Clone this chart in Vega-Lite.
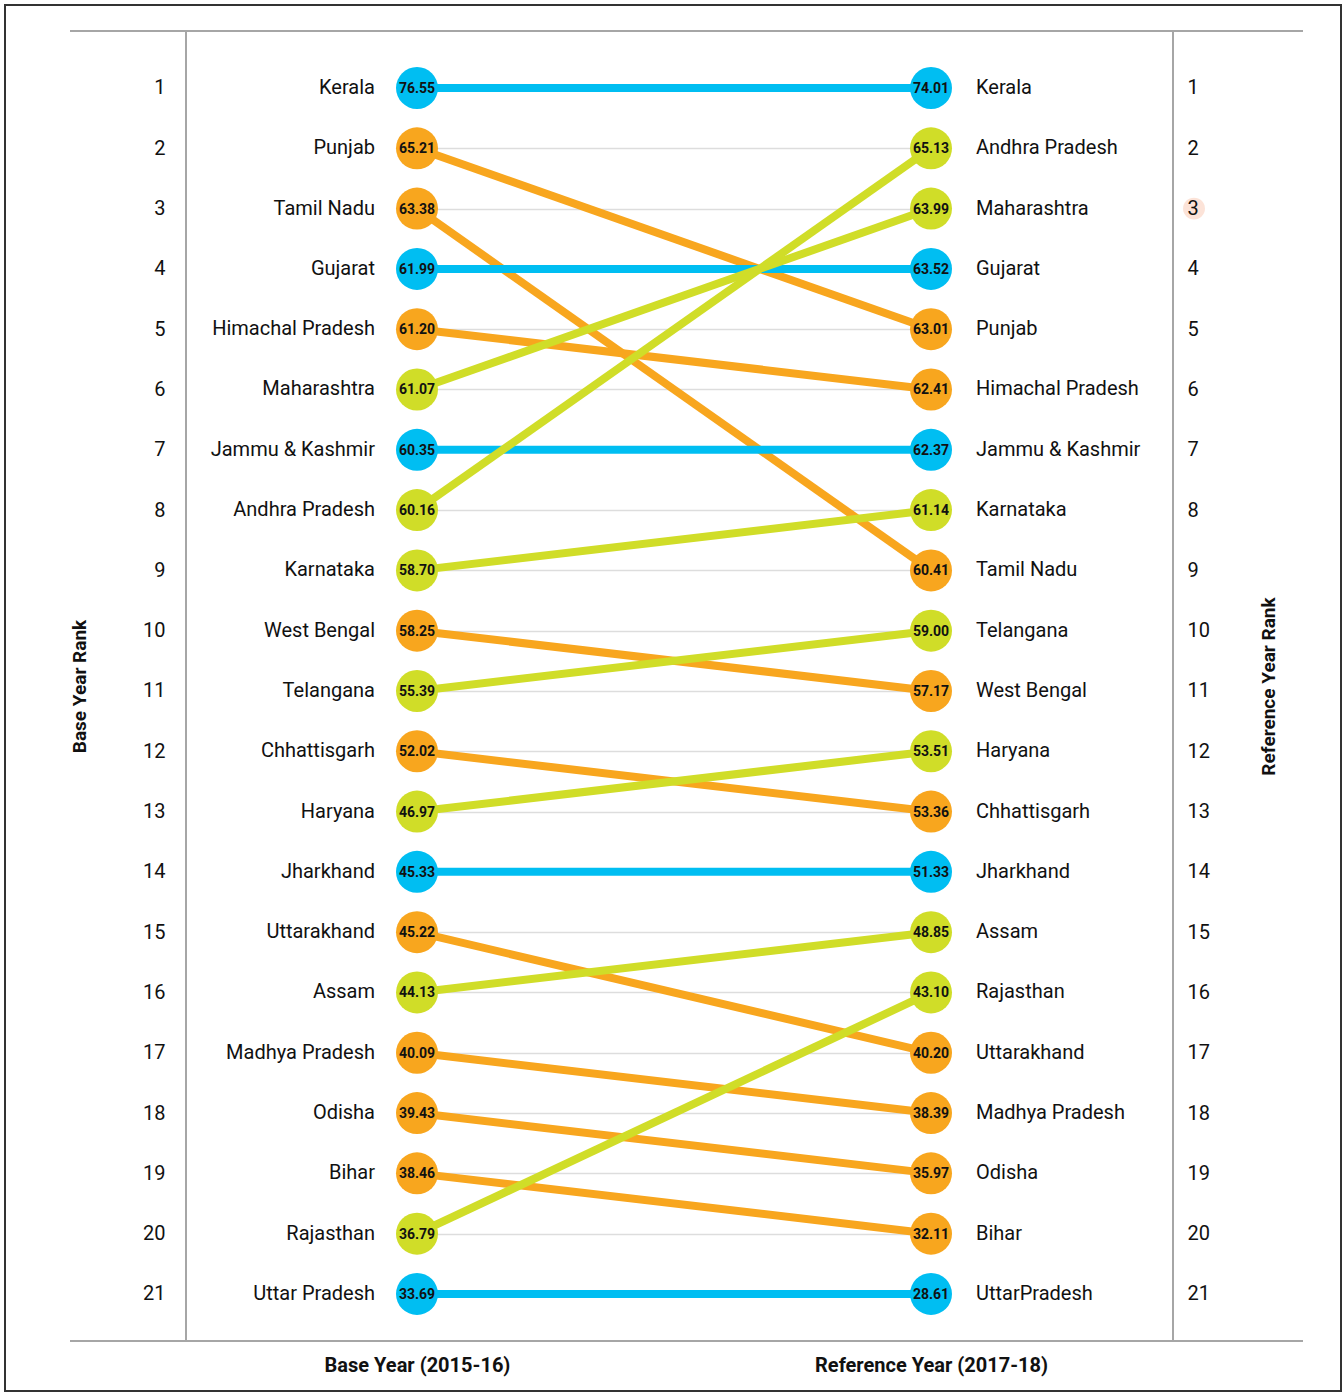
{
  "$schema": "https://vega.github.io/schema/vega-lite/v6.json",
  "width": 987,
  "height": 1310,
  "autosize": {"type": "none"},
  "padding": {"left": 186, "top": 31, "right": 171, "bottom": 52},
  "background": "white",
  "config": {"view": {"stroke": "#A6A6A6", "strokeWidth": 2}, "font": "Roboto"},
  "data": {"values": [
    {"state": "Kerala", "label": "Kerala", "year": "Base Year (2015-16)", "rank": 1, "score": 76.55, "change": "same"},
    {"state": "Punjab", "label": "Punjab", "year": "Base Year (2015-16)", "rank": 2, "score": 65.21, "change": "down"},
    {"state": "Tamil Nadu", "label": "Tamil Nadu", "year": "Base Year (2015-16)", "rank": 3, "score": 63.38, "change": "down"},
    {"state": "Gujarat", "label": "Gujarat", "year": "Base Year (2015-16)", "rank": 4, "score": 61.99, "change": "same"},
    {"state": "Himachal Pradesh", "label": "Himachal Pradesh", "year": "Base Year (2015-16)", "rank": 5, "score": 61.20, "change": "down"},
    {"state": "Maharashtra", "label": "Maharashtra", "year": "Base Year (2015-16)", "rank": 6, "score": 61.07, "change": "up"},
    {"state": "Jammu & Kashmir", "label": "Jammu & Kashmir", "year": "Base Year (2015-16)", "rank": 7, "score": 60.35, "change": "same"},
    {"state": "Andhra Pradesh", "label": "Andhra Pradesh", "year": "Base Year (2015-16)", "rank": 8, "score": 60.16, "change": "up"},
    {"state": "Karnataka", "label": "Karnataka", "year": "Base Year (2015-16)", "rank": 9, "score": 58.70, "change": "up"},
    {"state": "West Bengal", "label": "West Bengal", "year": "Base Year (2015-16)", "rank": 10, "score": 58.25, "change": "down"},
    {"state": "Telangana", "label": "Telangana", "year": "Base Year (2015-16)", "rank": 11, "score": 55.39, "change": "up"},
    {"state": "Chhattisgarh", "label": "Chhattisgarh", "year": "Base Year (2015-16)", "rank": 12, "score": 52.02, "change": "down"},
    {"state": "Haryana", "label": "Haryana", "year": "Base Year (2015-16)", "rank": 13, "score": 46.97, "change": "up"},
    {"state": "Jharkhand", "label": "Jharkhand", "year": "Base Year (2015-16)", "rank": 14, "score": 45.33, "change": "same"},
    {"state": "Uttarakhand", "label": "Uttarakhand", "year": "Base Year (2015-16)", "rank": 15, "score": 45.22, "change": "down"},
    {"state": "Assam", "label": "Assam", "year": "Base Year (2015-16)", "rank": 16, "score": 44.13, "change": "up"},
    {"state": "Madhya Pradesh", "label": "Madhya Pradesh", "year": "Base Year (2015-16)", "rank": 17, "score": 40.09, "change": "down"},
    {"state": "Odisha", "label": "Odisha", "year": "Base Year (2015-16)", "rank": 18, "score": 39.43, "change": "down"},
    {"state": "Bihar", "label": "Bihar", "year": "Base Year (2015-16)", "rank": 19, "score": 38.46, "change": "down"},
    {"state": "Rajasthan", "label": "Rajasthan", "year": "Base Year (2015-16)", "rank": 20, "score": 36.79, "change": "up"},
    {"state": "Uttar Pradesh", "label": "Uttar Pradesh", "year": "Base Year (2015-16)", "rank": 21, "score": 33.69, "change": "same"},
    {"state": "Kerala", "label": "Kerala", "year": "Reference Year (2017-18)", "rank": 1, "score": 74.01, "change": "same"},
    {"state": "Andhra Pradesh", "label": "Andhra Pradesh", "year": "Reference Year (2017-18)", "rank": 2, "score": 65.13, "change": "up"},
    {"state": "Maharashtra", "label": "Maharashtra", "year": "Reference Year (2017-18)", "rank": 3, "score": 63.99, "change": "up"},
    {"state": "Gujarat", "label": "Gujarat", "year": "Reference Year (2017-18)", "rank": 4, "score": 63.52, "change": "same"},
    {"state": "Punjab", "label": "Punjab", "year": "Reference Year (2017-18)", "rank": 5, "score": 63.01, "change": "down"},
    {"state": "Himachal Pradesh", "label": "Himachal Pradesh", "year": "Reference Year (2017-18)", "rank": 6, "score": 62.41, "change": "down"},
    {"state": "Jammu & Kashmir", "label": "Jammu & Kashmir", "year": "Reference Year (2017-18)", "rank": 7, "score": 62.37, "change": "same"},
    {"state": "Karnataka", "label": "Karnataka", "year": "Reference Year (2017-18)", "rank": 8, "score": 61.14, "change": "up"},
    {"state": "Tamil Nadu", "label": "Tamil Nadu", "year": "Reference Year (2017-18)", "rank": 9, "score": 60.41, "change": "down"},
    {"state": "Telangana", "label": "Telangana", "year": "Reference Year (2017-18)", "rank": 10, "score": 59.00, "change": "up"},
    {"state": "West Bengal", "label": "West Bengal", "year": "Reference Year (2017-18)", "rank": 11, "score": 57.17, "change": "down"},
    {"state": "Haryana", "label": "Haryana", "year": "Reference Year (2017-18)", "rank": 12, "score": 53.51, "change": "up"},
    {"state": "Chhattisgarh", "label": "Chhattisgarh", "year": "Reference Year (2017-18)", "rank": 13, "score": 53.36, "change": "down"},
    {"state": "Jharkhand", "label": "Jharkhand", "year": "Reference Year (2017-18)", "rank": 14, "score": 51.33, "change": "same"},
    {"state": "Assam", "label": "Assam", "year": "Reference Year (2017-18)", "rank": 15, "score": 48.85, "change": "up"},
    {"state": "Rajasthan", "label": "Rajasthan", "year": "Reference Year (2017-18)", "rank": 16, "score": 43.10, "change": "up"},
    {"state": "Uttarakhand", "label": "Uttarakhand", "year": "Reference Year (2017-18)", "rank": 17, "score": 40.20, "change": "down"},
    {"state": "Madhya Pradesh", "label": "Madhya Pradesh", "year": "Reference Year (2017-18)", "rank": 18, "score": 38.39, "change": "down"},
    {"state": "Odisha", "label": "Odisha", "year": "Reference Year (2017-18)", "rank": 19, "score": 35.97, "change": "down"},
    {"state": "Bihar", "label": "Bihar", "year": "Reference Year (2017-18)", "rank": 20, "score": 32.11, "change": "down"},
    {"state": "Uttar Pradesh", "label": "UttarPradesh", "year": "Reference Year (2017-18)", "rank": 21, "score": 28.61, "change": "same"}
  ]},
  "layer": [
    {
      "mark": {"type": "line", "strokeWidth": 8, "strokeCap": "butt"},
      "encoding": {
        "x": {
          "field": "year", "type": "nominal",
          "scale": {"type": "point", "domain": ["Base Year (2015-16)", "Reference Year (2017-18)"], "range": [231, 745], "padding": 0},
          "axis": {"orient": "bottom", "title": null, "labelAngle": 0, "labelFont": "Roboto", "labelFontSize": 20, "labelFontWeight": "bold", "labelColor": "#111111", "labelPadding": 14, "labelLimit": 0, "ticks": false, "domain": false, "grid": false}
        },
        "y": {
          "field": "rank", "type": "quantitative",
          "scale": {"domain": [0.055, 21.78], "reverse": true, "nice": false, "zero": false},
          "axis": {"orient": "left", "values": [1,2,3,4,5,6,7,8,9,10,11,12,13,14,15,16,17,18,19,20,21], "title": "Base Year Rank", "titleFont": "Roboto", "titleFontSize": 19, "titleFontWeight": "bold", "titleColor": "#111111", "titleAngle": 270, "titleX": -107, "titleBaseline": "middle", "labelFont": "Roboto", "labelFontSize": 20, "labelColor": "#111111", "labelPadding": 21, "ticks": false, "domain": false, "grid": true, "gridColor": "#DDDDDD", "gridWidth": 1.5}
        },
        "detail": {"field": "state"},
        "color": {"field": "change", "type": "nominal", "scale": {"domain": ["same", "down", "up"], "range": ["#00BEF2", "#F8A61E", "#D0DD28"]}, "legend": null}
      }
    },
    {
      "data": {"values": [{}]},
      "mark": {"type": "circle", "color": "#FCE3D8", "opacity": 1, "size": 480, "xOffset": 263},
      "encoding": {
        "x": {"datum": "Reference Year (2017-18)"},
        "y": {"datum": 3, "axis": null}
      }
    },
    {
      "mark": {"type": "circle", "size": 1764, "opacity": 1},
      "encoding": {
        "x": {"field": "year", "type": "nominal"},
        "y": {
          "field": "rank", "type": "quantitative",
          "axis": {"orient": "right", "values": [1,2,3,4,5,6,7,8,9,10,11,12,13,14,15,16,17,18,19,20,21], "title": "Reference Year Rank", "titleFont": "Roboto", "titleFontSize": 19, "titleFontWeight": "bold", "titleColor": "#111111", "titleAngle": 270, "titleX": 95, "titleBaseline": "middle", "labelFont": "Roboto", "labelFontSize": 20, "labelColor": "#111111", "labelPadding": 14, "ticks": false, "domain": false, "grid": false, "zindex": 1}
        },
        "color": {"field": "change", "type": "nominal", "legend": null}
      }
    },
    {
      "mark": {"type": "text", "font": "Roboto", "fontSize": 14, "fontWeight": "bold", "color": "#111111", "baseline": "middle", "align": "center", "dy": 1},
      "encoding": {
        "x": {"field": "year", "type": "nominal"},
        "y": {"field": "rank", "type": "quantitative", "axis": null},
        "text": {"field": "score", "type": "quantitative", "format": ".2f"}
      }
    },
    {
      "transform": [{"filter": "datum.year == 'Base Year (2015-16)'"}],
      "mark": {"type": "text", "font": "Roboto", "fontSize": 20, "color": "#111111", "baseline": "middle", "align": "right", "dx": -42},
      "encoding": {
        "x": {"field": "year", "type": "nominal"},
        "y": {"field": "rank", "type": "quantitative", "axis": null},
        "text": {"field": "label", "type": "nominal"}
      }
    },
    {
      "transform": [{"filter": "datum.year == 'Reference Year (2017-18)'"}],
      "mark": {"type": "text", "font": "Roboto", "fontSize": 20, "color": "#111111", "baseline": "middle", "align": "left", "dx": 45},
      "encoding": {
        "x": {"field": "year", "type": "nominal"},
        "y": {"field": "rank", "type": "quantitative", "axis": null},
        "text": {"field": "label", "type": "nominal"}
      }
    },
    {
      "data": {"values": [{}]},
      "mark": {"type": "rule", "color": "#A6A6A6", "strokeWidth": 2, "xOffset": -347, "x2Offset": 372},
      "encoding": {
        "x": {"datum": "Base Year (2015-16)"},
        "x2": {"datum": "Reference Year (2017-18)"},
        "y": {"datum": 0.055, "axis": null}
      }
    },
    {
      "data": {"values": [{}]},
      "mark": {"type": "rule", "color": "#A6A6A6", "strokeWidth": 2, "xOffset": -347, "x2Offset": 372},
      "encoding": {
        "x": {"datum": "Base Year (2015-16)"},
        "x2": {"datum": "Reference Year (2017-18)"},
        "y": {"datum": 21.78, "axis": null}
      }
    },
    {
      "data": {"values": [{}]},
      "mark": {"type": "rect", "filled": false, "stroke": "#333333", "strokeWidth": 2, "xOffset": -412, "x2Offset": 410, "yOffset": -26, "y2Offset": 50},
      "encoding": {
        "x": {"datum": "Base Year (2015-16)"},
        "x2": {"datum": "Reference Year (2017-18)"},
        "y": {"datum": 0.055, "axis": null},
        "y2": {"datum": 21.78}
      }
    }
  ],
  "resolve": {"axis": {"y": "independent"}}
}
